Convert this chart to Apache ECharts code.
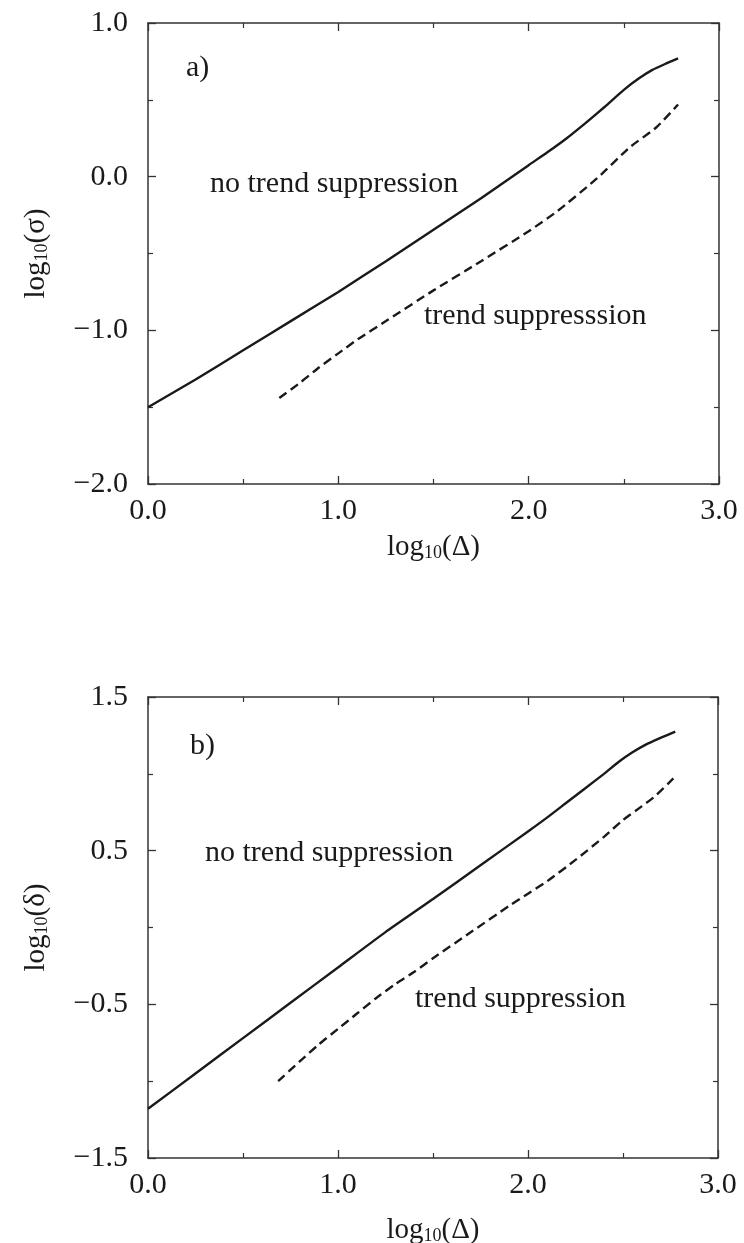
<!DOCTYPE html>
<html>
<head>
<meta charset="utf-8">
<script src="https://cdn.jsdelivr.net/npm/echarts@6/dist/echarts.min.js"></script>
<style>
  html, body { margin: 0; padding: 0; background: #fff; }
  #chart { width: 744px; height: 1243px; }
</style>
</head>
<body>
<div id="chart"></div>
<script>
// ---- Data ----
// Panel a): log10(sigma) vs log10(Delta)
const xSolidA = [0, 0.25, 0.5, 0.75, 1.0, 1.25, 1.5, 1.75, 2.0, 2.1, 2.2, 2.3, 2.4, 2.5, 2.58, 2.65, 2.72, 2.785];
const ySolidA = [-1.5, -1.32, -1.13, -0.94, -0.75, -0.55, -0.345, -0.14, 0.075, 0.16, 0.25, 0.35, 0.455, 0.565, 0.64, 0.695, 0.735, 0.77];
const xDashA = [0.69, 0.8, 0.9, 1.0, 1.1, 1.25, 1.5, 1.75, 2.0, 2.15, 2.36, 2.53, 2.67, 2.785];
const yDashA = [-1.44, -1.34, -1.24, -1.15, -1.06, -0.94, -0.74, -0.55, -0.355, -0.225, -0.01, 0.19, 0.32, 0.47];

// Panel b): log10(delta) vs log10(Delta)
const xSolidB = [0, 0.25, 0.5, 0.75, 1.0, 1.25, 1.5, 1.75, 2.0, 2.1, 2.2, 2.3, 2.4, 2.48, 2.55, 2.62, 2.7, 2.775];
const ySolidB = [-1.18, -0.95, -0.72, -0.49, -0.26, -0.03, 0.185, 0.405, 0.625, 0.715, 0.81, 0.905, 1.0, 1.08, 1.14, 1.19, 1.235, 1.275];
const xDashB = [0.685, 0.8, 0.9, 1.0, 1.1, 1.2, 1.3, 1.4, 1.5, 1.7, 1.9, 2.0, 2.1, 2.25, 2.4, 2.5, 2.6, 2.66, 2.765];
const yDashB = [-1.0, -0.87, -0.76, -0.66, -0.56, -0.46, -0.37, -0.29, -0.2, -0.03, 0.14, 0.22, 0.30, 0.44, 0.59, 0.70, 0.79, 0.845, 0.97];

// Axis ranges / ticks
const xRange = [0, 3, 1];
const yRangeA = [-2, 1, 1];
const yRangeB = [-1.5, 1.5, 1];

// Texts
const panelLabels = ['a)', 'b)'];
const solidLabels = ['no trend suppression', 'no trend suppression'];
const dashLabels = ['trend suppresssion', 'trend suppression'];
const yNames = ['σ', 'δ'];
const xName = 'Δ';

// ---- Build chart ----
const zip = (xs, ys) => xs.map((x, i) => [x, ys[i]]);
const FONT = 'Liberation Serif, Times New Roman, serif';
const INK = '#1a1a1a';
const AX = '#333333';
const fmt = v => (v < 0 ? '\u2212' : '') + Math.abs(v).toFixed(1);

const rich = {
  n: { fontFamily: FONT, fontSize: 29, color: INK, lineHeight: 32 },
  s: { fontFamily: FONT, fontSize: 18, color: INK, lineHeight: 18, verticalAlign: 'bottom', padding: [0, 0, 1, 0] }
};

function axisCommon(extra) {
  return Object.assign({
    type: 'value',
    axisLine: { show: true, onZero: false, lineStyle: { color: AX, width: 1.5 } },
    axisTick: { show: true, inside: true, length: 8, lineStyle: { color: AX, width: 1.3 } },
    minorTick: { show: true, splitNumber: 2, length: 5, lineStyle: { color: AX, width: 1.2 } },
    splitLine: { show: false },
    minorSplitLine: { show: false }
  }, extra);
}

const grids = [
  { left: 148, top: 23, width: 571, height: 461, outerBoundsMode: 'none', containLabel: false },
  { left: 148, top: 697, width: 570, height: 461, outerBoundsMode: 'none', containLabel: false }
];
const yRanges = [yRangeA, yRangeB];
const xNameGaps = [47, 56];

const xAxes = [], yAxes = [];
grids.forEach((g, i) => {
  xAxes.push(axisCommon({
    gridIndex: i, position: 'bottom', min: xRange[0], max: xRange[1], interval: xRange[2],
    axisLabel: { show: true, margin: 12, formatter: fmt, fontFamily: FONT, fontSize: 30, color: INK },
    name: '{n|log}{s|10}{n|(' + xName + ')}', nameLocation: 'middle', nameGap: xNameGaps[i],
    nameTextStyle: { rich: rich }
  }));
  xAxes.push(axisCommon({
    gridIndex: i, position: 'top', min: xRange[0], max: xRange[1], interval: xRange[2],
    axisLabel: { show: false }
  }));
  const yr = yRanges[i];
  yAxes.push(axisCommon({
    gridIndex: i, position: 'left', min: yr[0], max: yr[1], interval: yr[2],
    axisLabel: { show: true, margin: 20, formatter: fmt, fontFamily: FONT, fontSize: 30, color: INK },
    name: '{n|log}{s|10}{n|(' + yNames[i] + ')}', nameLocation: 'middle', nameGap: 96, nameRotate: 90,
    nameTextStyle: { rich: rich }
  }));
  yAxes.push(axisCommon({
    gridIndex: i, position: 'right', min: yr[0], max: yr[1], interval: yr[2],
    axisLabel: { show: false }
  }));
});

const lineSeries = (xi, yi, data, dashed) => ({
  type: 'line', xAxisIndex: xi, yAxisIndex: yi, data: data,
  showSymbol: false, symbol: 'none', smooth: 0.2, silent: true,
  lineStyle: { color: INK, width: 2.4, type: dashed ? [9, 5] : 'solid', cap: 'butt' }
});

const series = [
  lineSeries(0, 0, zip(xSolidA, ySolidA), false),
  lineSeries(0, 0, zip(xDashA, yDashA), true),
  lineSeries(2, 2, zip(xSolidB, ySolidB), false),
  lineSeries(2, 2, zip(xDashB, yDashB), true)
];

const txt = (x, y, s) => ({
  type: 'text', left: x, top: y,
  style: { text: s, fontFamily: FONT, fontSize: 30, fill: INK }
});

const graphic = [
  txt(186, 53, panelLabels[0]),
  txt(210, 169, solidLabels[0]),
  txt(424, 301, dashLabels[0]),
  txt(190, 731, panelLabels[1]),
  txt(205, 838, solidLabels[1]),
  txt(415, 984, dashLabels[1])
];

const chart = echarts.init(document.getElementById('chart'), null, { renderer: 'canvas' });
chart.setOption({
  animation: false,
  backgroundColor: '#ffffff',
  grid: grids,
  xAxis: xAxes,
  yAxis: yAxes,
  series: series,
  graphic: graphic
});
</script>
</body>
</html>
